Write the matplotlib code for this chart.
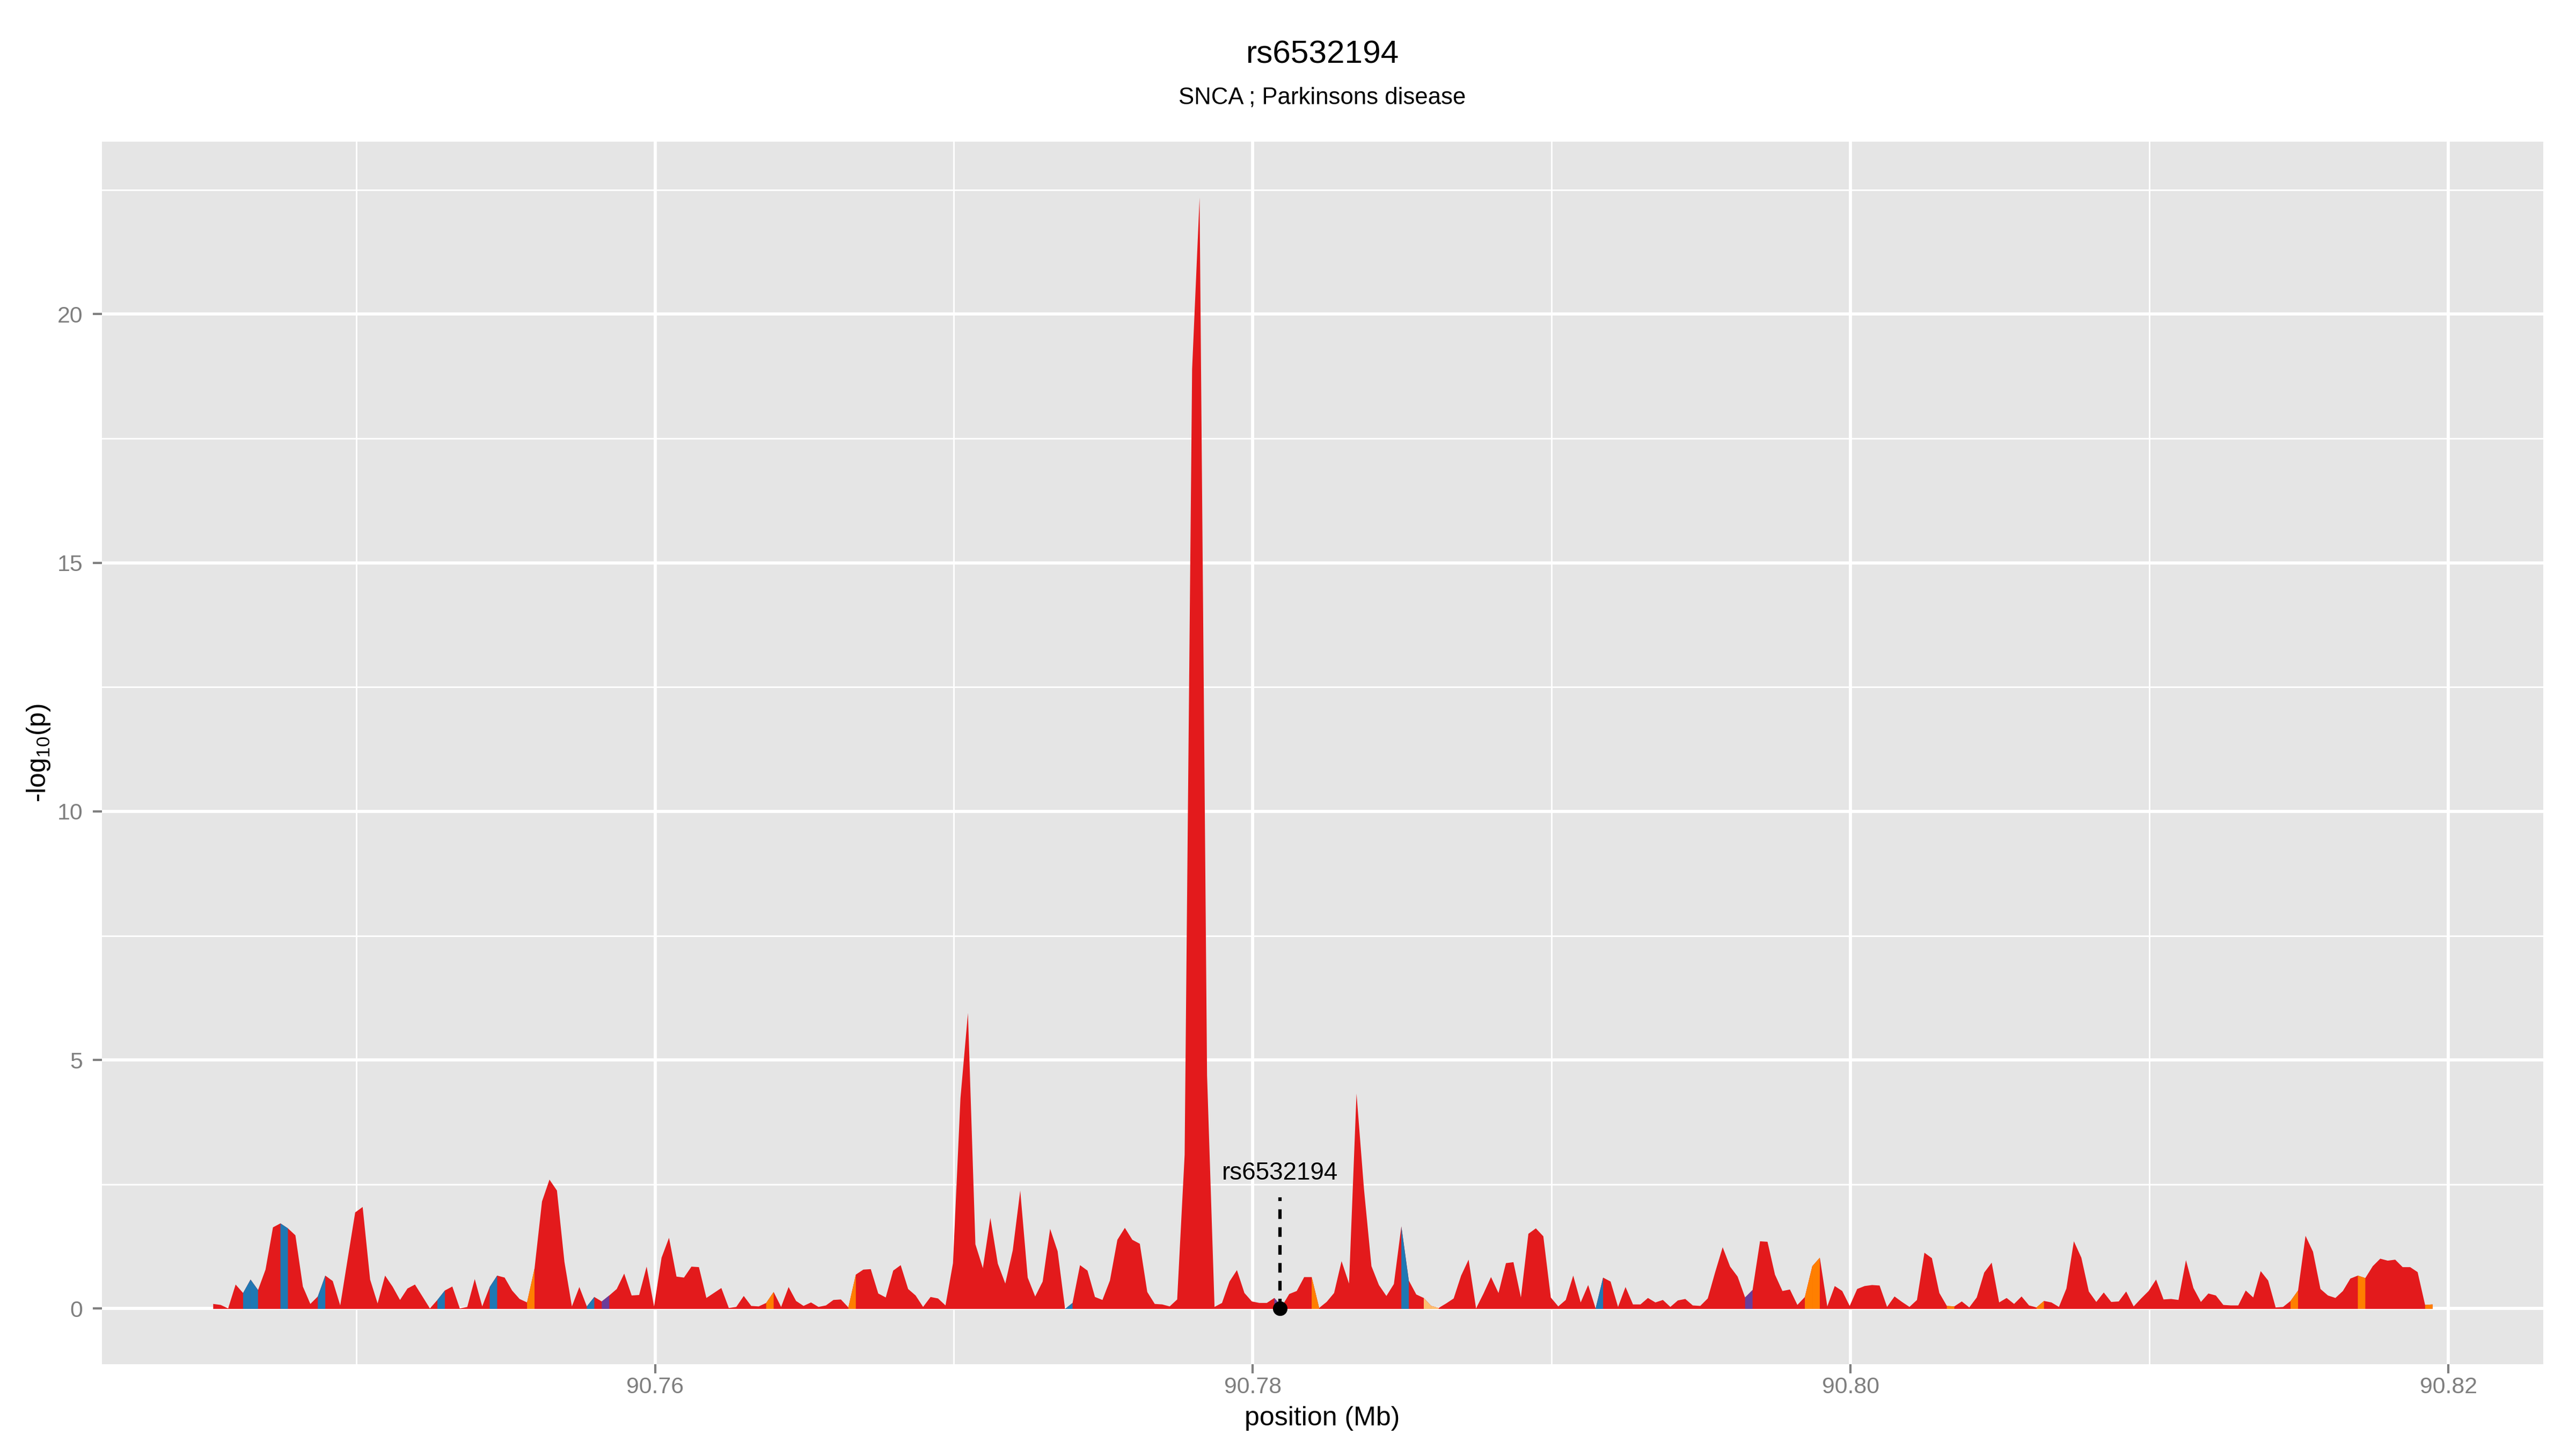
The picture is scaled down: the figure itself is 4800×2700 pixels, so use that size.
import numpy as np
import matplotlib
matplotlib.use('Agg')
import matplotlib.pyplot as plt
from matplotlib.ticker import MultipleLocator

plt.rcParams['font.family'] = ['Liberation Sans', 'DejaVu Sans']
plt.rcParams['mathtext.fontset'] = 'custom'
plt.rcParams['mathtext.rm'] = 'Liberation Sans'
plt.rcParams['mathtext.it'] = 'Liberation Sans:italic'
plt.rcParams['lines.scale_dashes'] = False

# ---------------- data ----------------
snp_name = 'rs6532194'
subtitle = 'SNCA ; Parkinsons disease'
snp_pos_mb = 90.7809

# positions: regular 250 bp grid starting here (Mb)
pos_start_mb = 90.74521
pos_step_mb = 0.00025

logp = [
    0.10, 0.08, 0.01, 0.49, 0.32, 0.59, 0.38, 0.79, 1.64, 1.72,
    1.62, 1.48, 0.45, 0.10, 0.25, 0.67, 0.56, 0.07, 1.01, 1.94,
    2.05, 0.59, 0.11, 0.67, 0.45, 0.18, 0.41, 0.49, 0.25, 0.01,
    0.18, 0.37, 0.45, 0.01, 0.04, 0.60, 0.05, 0.44, 0.67, 0.63,
    0.37, 0.20, 0.13, 0.81, 2.16, 2.60, 2.38, 0.95, 0.05, 0.44,
    0.05, 0.24, 0.15, 0.27, 0.40, 0.71, 0.27, 0.28, 0.85, 0.05,
    1.03, 1.43, 0.65, 0.63, 0.85, 0.84, 0.22, 0.32, 0.42, 0.02,
    0.04, 0.26, 0.06, 0.05, 0.12, 0.34, 0.04, 0.44, 0.16, 0.06,
    0.13, 0.04, 0.07, 0.18, 0.19, 0.03, 0.69, 0.79, 0.80, 0.31,
    0.23, 0.77, 0.88, 0.40, 0.27, 0.04, 0.24, 0.21, 0.07, 0.92,
    4.24, 5.95, 1.30, 0.82, 1.83, 0.91, 0.51, 1.18, 2.38, 0.63,
    0.25, 0.55, 1.61, 1.16, 0.00, 0.12, 0.88, 0.77, 0.24, 0.18,
    0.57, 1.39, 1.63, 1.39, 1.31, 0.34, 0.10, 0.09, 0.05, 0.19,
    3.10, 18.90, 22.35, 4.70, 0.04, 0.12, 0.55, 0.78, 0.32, 0.15,
    0.12, 0.12, 0.22, 0.05, 0.30, 0.36, 0.64, 0.64, 0.02, 0.14,
    0.32, 0.96, 0.51, 4.33, 2.41, 0.86, 0.48, 0.26, 0.50, 1.66,
    0.57, 0.29, 0.22, 0.06, 0.02, 0.11, 0.21, 0.67, 0.99, 0.01,
    0.31, 0.64, 0.32, 0.92, 0.94, 0.23, 1.51, 1.62, 1.46, 0.23,
    0.05, 0.18, 0.67, 0.13, 0.48, 0.01, 0.63, 0.55, 0.04, 0.44,
    0.09, 0.09, 0.22, 0.13, 0.18, 0.04, 0.17, 0.20, 0.07, 0.06,
    0.21, 0.74, 1.24, 0.85, 0.65, 0.23, 0.38, 1.36, 1.35, 0.69,
    0.36, 0.39, 0.08, 0.24, 0.86, 1.03, 0.05, 0.46, 0.36, 0.06,
    0.40, 0.46, 0.48, 0.47, 0.04, 0.25, 0.14, 0.04, 0.18, 1.13,
    1.02, 0.32, 0.06, 0.05, 0.15, 0.03, 0.23, 0.73, 0.93, 0.13,
    0.22, 0.10, 0.25, 0.07, 0.03, 0.16, 0.13, 0.04, 0.41, 1.36,
    1.03, 0.35, 0.14, 0.33, 0.14, 0.15, 0.35, 0.05, 0.21, 0.36,
    0.59, 0.19, 0.20, 0.18, 0.98, 0.42, 0.14, 0.31, 0.27, 0.08,
    0.07, 0.07, 0.37, 0.23, 0.76, 0.57, 0.03, 0.04, 0.16, 0.37,
    1.47, 1.15, 0.40, 0.27, 0.22, 0.36, 0.61, 0.67, 0.62, 0.86,
    1.01, 0.97, 0.99, 0.84, 0.84, 0.74, 0.08, 0.09,
]

# segment (interval starting at point index) colour classes; all others red
blue_segments = [4, 5, 9, 14, 30, 37, 50, 114, 159, 185]
orange_segments = [42, 74, 85, 147, 213, 214, 232, 244, 278, 287, 296]
purple_segments = [52, 142, 205]
lightorange_segments = [162, 163]

x_ticks = [90.76, 90.78, 90.80, 90.82]
x_tick_labels = ['90.76', '90.78', '90.80', '90.82']
y_ticks = [0, 5, 10, 15, 20]
y_tick_labels = ['0', '5', '10', '15', '20']

RED = '#E31A1C'
BLUE = '#1F78B4'
ORANGE = '#FF7F00'
PURPLE = '#6A3D9A'
LORANGE = '#FDBF6F'
GREY50 = '#7F7F7F'

# ---------------- plot ----------------
y = np.array(logp)
x = pos_start_mb + pos_step_mb * np.arange(len(y))

W, H = 4800, 2700
fig = plt.figure(figsize=(16, 9), dpi=300)
ax = fig.add_axes([190 / W, 1 - 2542 / H, (4739 - 190) / W, (2542 - 264) / H])
ax.set_facecolor('#E5E5E5')
for s in ax.spines.values():
    s.set_visible(False)

ax.fill_between(x, 0, y, color=RED, lw=0, zorder=2)
for color, segs in [(BLUE, blue_segments), (ORANGE, orange_segments),
                    (PURPLE, purple_segments), (LORANGE, lightorange_segments)]:
    for i in segs:
        ax.fill_between(x[i:i + 2], 0, y[i:i + 2], color=color, lw=0, zorder=3)

ymax = y.max()
ax.plot([snp_pos_mb, snp_pos_mb], [0, 0.1 * ymax], color='black', lw=1.5,
        ls=(0, (4.3, 3.7)), zorder=5, solid_capstyle='butt', dash_capstyle='butt')
ax.plot([snp_pos_mb], [0], 'o', ms=5.5, color='black', zorder=6)
ax.text(snp_pos_mb, 2.60, snp_name, ha='center', va='baseline', fontsize=11, zorder=6)

# ggplot-like 5% expansion
xr = x.max() - x.min()
ax.set_xlim(x.min() - 0.05 * xr, x.max() + 0.05 * xr)
ax.set_ylim(0 - 0.05 * ymax, ymax + 0.05 * ymax)

ax.set_xticks(x_ticks)
ax.set_xticklabels(x_tick_labels)
ax.set_yticks(y_ticks)
ax.set_yticklabels(y_tick_labels)
ax.xaxis.set_minor_locator(MultipleLocator(0.01))
ax.yaxis.set_minor_locator(MultipleLocator(2.5))
ax.set_axisbelow(True)
ax.grid(which='major', color='white', lw=1.4)
ax.grid(which='minor', color='white', lw=0.7)
ax.tick_params(which='minor', length=0)
ax.tick_params(axis='both', which='major', colors=GREY50, labelcolor=GREY50,
               length=4.1, width=1.0, labelsize=10.3)
ax.tick_params(axis='x', pad=1.5)
ax.tick_params(axis='y', pad=4.5)

fig.text(2464 / W, 1 - 118 / H, snp_name, ha='center', va='baseline', fontsize=14.5)
fig.text(2464 / W, 1 - 193.5 / H, subtitle, ha='center', va='baseline', fontsize=10.5)
fig.text(2464 / W, 1 - 2656 / H, 'position (Mb)', ha='center', va='baseline', fontsize=12)
fig.text(72 / W, 1 - 1403 / H, '-log$_{10}$(p)', rotation=90, ha='center', va='center',
         fontsize=12)

fig.savefig('out.png', dpi=300, facecolor='white')
